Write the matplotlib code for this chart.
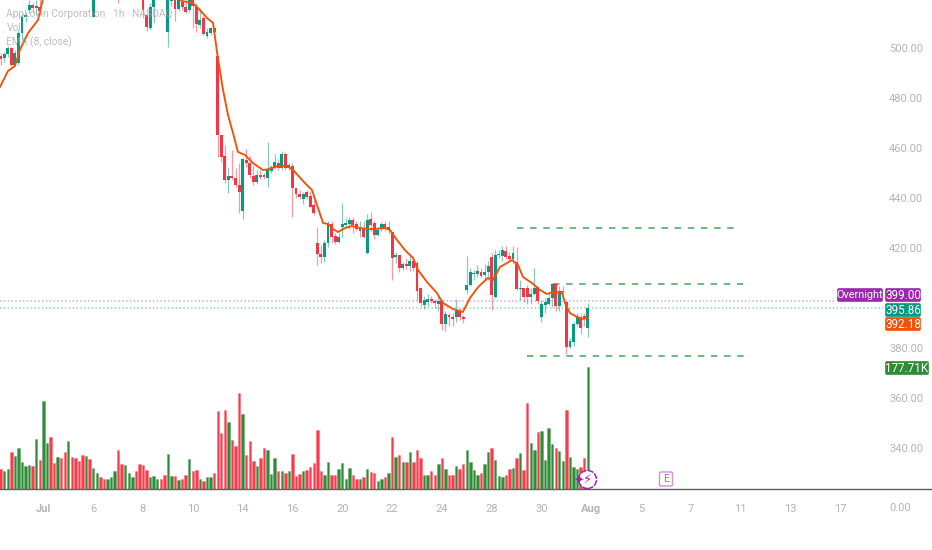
import matplotlib
matplotlib.use('Agg')
from matplotlib import pyplot as plt
from matplotlib.patches import FancyBboxPatch, Circle
import numpy as np

plt.rcParams['font.family'] = ['Roboto', 'DejaVu Sans']

# hourly candles (the ones above the top edge are rough)
opens = [496.8, 496.0, 497.6, 500.0, 493.2, 494.0, 506.0, 512.4, 515.2, 517.2, 516.0, 516.4, 521.0,
         538, 546, 541, 536, 541, 537, 533, 540, 535, 531, 527, 524, 528, 512.4,
         523, 527, 525, 523, 525, 527, 533, 526, 524, 527, 529, 531, 528, 524,
         513.2, 508.0, 516.4, 522, 530, 526, 506.4, 518.8, 524, 515.6, 518.4, 516.4, 515.2, 524,
         516.4, 509.2, 512.0, 504.8, 506.0, 508.0, 496.8, 465.2, 456.8, 447.2, 448.8, 448.0, 445.2, 434.8,
         455.2, 454.0, 448.8, 446.4, 449.2, 449.0, 448.0, 450.8, 452.0, 454.0, 452.0, 457.6, 452.0, 452.8,
         444.0, 441.6, 439.6, 442.4, 440.8, 437.2, 422.0, 417.6, 416.4, 422.0, 429.6, 424.8, 422.4, 428.4,
         429.2, 429.6, 431.2, 429.6, 426.8, 428.0, 418.0, 431.6, 430.0, 425.2, 427.6, 429.6, 427.6, 426.4,
         416.4, 417.2, 412.0, 413.6, 412.8, 414.8, 414.0, 404.0, 397.2, 398.4, 399.6, 398.8, 397.6, 398.8,
         389.6, 393.2, 392.4, 392.4, 394.8, 392.4, 403.2, 405.2, 409.6, 409.6, 410.4, 409.2, 410.4, 416.4,
         400.4, 417.2, 416.8, 418.8, 416.8, 415.6, 414.4, 403.6, 404.0, 404.0, 400.4, 401.6, 404.4, 392.4,
         397.2, 397.6, 400.0, 405.6, 396.8, 402.4, 398.4, 380.4, 382.4, 389.6, 392.4, 392.8, 388.0]
highs = [498.0, 498.4, 500.8, 500.4, 499.2, 507.2, 514.0, 514.4, 519.2, 518.0, 519.2, 521.2, 548,
         549, 548, 543, 543, 542, 539, 541, 541, 536, 533, 529, 530, 529, 525,
         529, 528, 526, 526, 528, 531, 534, 527, 528, 530, 532, 532, 529, 525,
         514.0, 518.0, 523.0, 527, 531, 528, 529, 529, 526, 523, 520.0, 519.2, 522, 525,
         518.0, 516.0, 513.0, 508.0, 508.4, 508.0, 496.8, 465.2, 461.2, 452.4, 459.2, 452.0, 454.0, 456.0,
         459.6, 456.8, 453.2, 451.2, 451.2, 450.0, 462.4, 453.2, 457.6, 455.6, 458.8, 458.4, 454.0, 454.0,
         444.0, 443.2, 442.4, 443.2, 442.8, 439.2, 428.4, 421.2, 423.2, 430.8, 430.8, 426.0, 426.0, 438.0,
         432.0, 432.4, 432.4, 431.0, 431.0, 431.0, 433.6, 434.4, 430.8, 428.4, 430.5, 430.8, 431.0, 426.4,
         418.5, 417.2, 414.5, 416.0, 416.8, 416.8, 414.8, 404.0, 400.8, 401.6, 401.0, 399.6, 401.6, 399.2,
         394.9, 394.0, 394.0, 399.6, 396.0, 393.2, 416.8, 412.0, 411.2, 413.2, 412.0, 413.6, 415.0, 418.0,
         419.2, 419.2, 420.8, 420.8, 418.4, 420.8, 420.4, 407.2, 404.0, 405.2, 404.0, 412.0, 404.4, 399.2,
         400.0, 401.8, 406.0, 405.8, 405.0, 404.8, 398.8, 384.0, 390.4, 394.0, 393.6, 394.0, 398.0]
lows = [493.2, 494.4, 496.4, 492.8, 492.8, 493.2, 503.2, 510.4, 514.0, 514.4, 513.2, 513.2, 520,
        536, 539, 534, 534, 535, 531, 531, 533, 529, 525, 522, 523, 521, 512.4,
        522, 523, 522, 522, 524, 526, 518, 521, 522, 525, 528, 526, 522, 512.0,
        506.8, 507.2, 510.0, 520, 524, 522, 500.4, 517.0, 510.8, 514.8, 515.2, 514.0, 514.4, 508.0,
        506.4, 508.0, 505.2, 504.0, 505.2, 506.4, 456.4, 454.4, 446.0, 442.0, 447.2, 444.4, 434.0, 431.6,
        452.4, 448.0, 445.2, 445.6, 447.6, 447.6, 444.4, 450.0, 451.6, 451.2, 451.2, 451.2, 451.2, 432.4,
        440.0, 439.6, 437.6, 439.6, 436.4, 433.2, 413.2, 414.0, 414.4, 420.4, 422.0, 421.6, 422.0, 424.4,
        428.0, 427.6, 426.0, 426.8, 424.5, 424.0, 417.6, 427.0, 423.6, 424.8, 426.7, 426.8, 425.6, 407.2,
        414.0, 410.4, 411.2, 411.6, 410.8, 410.8, 399.2, 396.8, 395.6, 396.8, 398.0, 396.0, 395.0, 387.2,
        386.9, 389.0, 389.0, 390.4, 391.2, 390.0, 401.6, 405.0, 407.2, 408.4, 408.0, 407.2, 407.2, 395.2,
        400.0, 416.0, 415.0, 415.6, 415.2, 414.0, 403.2, 399.2, 398.4, 397.6, 397.6, 401.2, 397.6, 390.4,
        394.0, 397.2, 396.4, 394.8, 394.8, 400.0, 377.6, 380.2, 380.8, 389.0, 385.6, 389.0, 384.4]
closes = [495.6, 497.6, 500.0, 493.2, 498.0, 506.0, 512.4, 513.2, 517.2, 516.2, 516.8, 514.8, 545,
          546, 541, 536, 541, 537, 533, 540, 535, 531, 527, 524, 528, 523, 523,
          527, 525, 523, 525, 527, 530, 526, 524, 527, 529, 531, 528, 525, 515.2,
          508.4, 516.4, 522.0, 526, 526, 524, 527, 528, 515.6, 522, 516.4, 514.4, 520.4, 516.8,
          509.6, 511.2, 505.6, 506.4, 508.0, 506.4, 465.2, 456.4, 447.2, 448.8, 448.0, 445.2, 442.4, 455.6,
          454.0, 449.2, 446.4, 449.2, 448.6, 448.4, 451.6, 452.4, 454.4, 452.0, 457.6, 452.0, 453.2, 444.0,
          441.6, 440.4, 441.6, 440.4, 436.4, 434.0, 417.6, 416.4, 422.0, 429.6, 424.4, 422.4, 424.4, 429.6,
          430.0, 431.2, 429.2, 427.6, 428.0, 424.4, 431.2, 429.2, 425.2, 427.2, 429.6, 427.6, 428.4, 416.0,
          417.2, 412.0, 413.6, 412.8, 414.8, 412.0, 402.8, 398.0, 399.2, 399.6, 398.8, 398.0, 398.8, 389.6,
          393.6, 392.4, 391.6, 394.8, 392.4, 391.6, 405.2, 410.4, 410.0, 410.8, 408.8, 410.4, 412.8, 401.2,
          417.2, 417.6, 419.2, 416.4, 415.6, 418.0, 403.6, 404.0, 400.4, 400.4, 401.6, 404.0, 398.8, 397.6,
          398.4, 400.0, 405.6, 396.8, 402.8, 402.8, 380.4, 382.8, 389.6, 392.4, 388.0, 391.6, 395.86]

# volume in thousands, green or red
volumes = [29.6, 25.7, 29.6, 53.9, 47.6, 60.2, 38.8, 34.0, 35.4, 33.0, 73.3, 42.7, 128.7, 67.0, 76.2, 37.9, 46.6,
           44.7, 54.4, 70.4, 46.6, 45.6, 40.8, 49.5, 47.6, 43.7, 31.1, 22.8, 18.0, 14.1, 15.1, 18.0, 26.2, 56.3,
           36.9, 35.0, 23.3, 17.5, 26.7, 36.9, 35.0, 28.2, 17.0, 19.4, 14.6, 15.1, 19.9, 51.5, 19.4, 19.4, 13.1,
           15.1, 19.9, 43.7, 26.2, 27.2, 14.1, 12.1, 18.0, 18.0, 22.8, 113.6, 81.1, 114.6, 98.1, 71.4, 62.6, 140.3,
           109.7, 50.0, 70.4, 40.8, 34.0, 45.6, 60.2, 56.3, 22.3, 44.7, 26.2, 26.7, 23.8, 25.7, 51.5, 18.4, 21.8,
           26.7, 28.2, 31.6, 37.9, 85.9, 26.7, 20.9, 39.8, 20.9, 19.9, 29.6, 37.9, 14.1, 30.6, 19.9, 15.1, 15.1,
           18.0, 29.6, 25.2, 23.8, 12.1, 15.1, 17.0, 23.8, 76.2, 46.6, 49.5, 38.8, 38.8, 54.4, 39.8, 56.3, 44.7,
           19.9, 20.9, 26.7, 19.9, 35.9, 45.6, 29.6, 19.9, 19.9, 34.0, 28.6, 36.9, 57.3, 39.8, 28.2, 20.9, 22.8,
           35.9, 54.4, 60.2, 42.7, 18.9, 17.0, 20.9, 28.6, 31.1, 45.6, 52.4, 28.2, 125.3, 67.5, 56.3, 83.0, 84.0,
           41.8, 88.8, 65.5, 59.2, 55.3, 40.8, 115.5, 46.6, 31.6, 28.6, 32.5, 44.7, 177.71]

# EMA(8) traced by hand
ema_bar = [-0.2, 2.06, 4.0, 5.4, 7.7, 10.5, 11.6, 13.3, 25, 35, 45, 47.6, 51, 54, 56, 58, 59.7, 61, 62.5, 63.9,
           65.3, 66.7, 68.7, 70.9, 73.7, 75.7, 77.7, 80.5, 82.2, 85.5, 87.5, 88.9, 90.6, 92, 93.4, 94.8, 96.8,
           98.7, 101, 103, 105.2, 108, 109.4, 111.4, 113.6, 115.9, 117.3, 119.8, 122.6, 124.3, 127.1, 129.9,
           131.9, 134.2, 136.9, 138.4, 140.3, 142.3, 143.7, 145.4, 146.8, 149.3, 151.6, 153.5, 155.2, 157.8,
           158.6, 160, 162, 163.7, 165]
ema_val = [484.4, 490.8, 492.8, 499.2, 506.0, 511.2, 518.0, 527.2, 530, 530, 528, 522, 518.8, 518.0, 515.2, 512.0,
           510.0, 496.4, 483.2, 473.2, 466.0, 458.4, 457.2, 454.0, 451.2, 451.6, 452.8, 452.8, 451.2, 446.0,
           443.2, 437.2, 430.0, 429.6, 427.6, 426.4, 428.0, 428.8, 428.0, 427.6, 427.6, 428.0, 427.2, 423.2,
           419.2, 416.0, 411.2, 406.4, 402.0, 398.0, 395.6, 394.4, 400.0, 404.4, 408.0, 407.2, 412.4, 414.0,
           415.2, 413.2, 408.4, 406.0, 403.2, 401.6, 402.4, 402.0, 398.0, 394.0, 392.4, 391.6, 392.18]

date_bars = [12, 26, 40, 54, 68, 82, 96, 110, 124, 138, 152, 166, 180, 194, 208, 222, 236]
date_labels = ['Jul', '6', '8', '10', '14', '16', '20', '22', '24', '28', '30', 'Aug', '5', '7', '11', '13', '17']
price_ticks = [500, 480, 460, 440, 420, 380, 360, 340]

# dashed levels: price, first bar, last bar
level_prices = [428.0, 405.6, 376.6]
level_start = [145, 155.3, 148]
level_end = [207.2, 210, 210]

overnight = 399.00
last_close = 395.86
ema_last = 392.18
last_volume = 177.71

W, H = 932, 550
GREEN = '#089981'
RED = '#f23645'
VOL_GREEN = '#2e8b36'
VOL_RED = '#fb3a4c'
PURPLE = '#9c27b0'
ORANGE = '#ef5209'
GREY = '#b4b4b4'

fig = plt.figure(figsize=(W / 100, H / 100), dpi=100)
ax = fig.add_axes([0, 0, 1, 1])
ax.set_xlim(-0.188, 261.75)
ax.set_ylim(299.2, 519.2)
ax.axis('off')

vol = ax.twinx()
vol.set_ylim(-88.9, 712.3)
vol.axis('off')
vol.set_zorder(0)
ax.set_zorder(1)
ax.patch.set_visible(False)

bars = np.arange(len(closes))
opens = np.array(opens)
closes = np.array(closes)
up = closes >= opens

vol.bar(bars, volumes, width=0.68, color=[VOL_GREEN if u else VOL_RED for u in up], linewidth=0.5,
        edgecolor=['#2e8b3660' if u else '#fb3a4c60' for u in up])
vol.axhline(0, color='#5f5f5f', lw=1.0)

candle_colors = [GREEN if u else RED for u in up]
ax.vlines(bars, lows, highs, colors=candle_colors, lw=0.9, alpha=0.5, zorder=2)
ax.bar(bars, np.maximum(np.abs(closes - opens), 0.4), bottom=np.minimum(opens, closes), width=0.82,
       color=candle_colors, linewidth=0, zorder=3)
ax.plot(ema_bar, ema_val, color=ORANGE, lw=1.35, zorder=4, solid_joinstyle='round')

ax.plot([-0.188, 234.5], [overnight, overnight], color=PURPLE, lw=1.1, ls=(0, (1, 1.5)), alpha=0.4, zorder=1)
ax.plot([-0.188, 248], [last_close, last_close], color=GREEN, lw=1.1, ls=(0, (1, 1.5)), alpha=0.45, zorder=1)

for p, a, b in zip(level_prices, level_start, level_end):
    ax.plot([a, b], [p, p], color='#2f9a4c', lw=1.1, ls=(0, (4.2, 4.4)), alpha=0.9, zorder=2)


def fx(x):
    return x / W


def fy(y):
    return 1 - y / H


def tag(x0, y0, x1, y1, color, label, size=8.4):
    box = FancyBboxPatch((x0 + 1, H - y1 + 1), x1 - x0 - 2, y1 - y0 - 2, boxstyle='round,pad=0,rounding_size=1',
                         facecolor=color, edgecolor=color, lw=1.2, zorder=6)
    fig.add_artist(box)
    box.set_transform(None)
    fig.text(fx((x0 + x1) / 2), fy((y0 + y1) / 2 + 0.3), label, color='white', fontsize=size, ha='center',
             va='center', zorder=7)


for p in price_ticks:
    ax.annotate('%.2f' % p, (fx(889), p), xytext=(0, -0.7), textcoords='offset points', color=GREY, fontsize=8.0,
                va='center', ha='left', xycoords=ax.get_yaxis_transform())
ax.text(fx(889), fy(508), '0.00', color=GREY, fontsize=8.0, va='center', ha='left', transform=ax.transAxes)

for b, s in zip(date_bars, date_labels):
    bold = s in ('Jul', 'Aug')
    ax.text(b, fy(509.5), s, color=GREY, fontsize=8.0, va='center', ha='center',
            fontweight='bold' if bold else 'normal', transform=ax.get_xaxis_transform())

tag(837, 288, 883, 302, PURPLE, 'Overnight', 7.8)
tag(885, 288, 921, 302, PURPLE, '%.2f' % overnight)
tag(885, 303, 921, 317, GREEN, '%.2f' % last_close)
tag(885, 317, 921, 331, ORANGE, '%.2f' % ema_last)
tag(885, 361, 929, 375, VOL_GREEN, '%.2fK' % last_volume)

# legend text sits over the candles
for y, s in zip([14, 28, 42], ['AppLovin Corporation · 1h · NASDAQ', 'Vol', 'EMA (8, close)']):
    fig.text(fx(6.5), fy(y), s, color='#a8a8a8', alpha=0.75, fontsize=7.4, va='center', ha='left', zorder=8)

# flash and earnings markers near the baseline
disc = Circle((587.5, H - 479.5), 9, facecolor='white', edgecolor=PURPLE, lw=1.1, ls=(0, (4, 0.8)), zorder=5)
fig.add_artist(disc)
disc.set_transform(None)
fig.text(fx(587.5), fy(479.5), '\u26a1', color=PURPLE, fontsize=9.5, ha='center', va='center', zorder=6,
         family='DejaVu Sans')
fig.text(fx(579), fy(481), '\u2726', color=PURPLE, fontsize=9, ha='center', va='center', zorder=6,
         family='DejaVu Sans')
ebox = FancyBboxPatch((659.5, H - 486), 13, 14, boxstyle='round,pad=0,rounding_size=1.5', facecolor='white',
                      edgecolor='#ce93d8', lw=1.0, zorder=5)
fig.add_artist(ebox)
ebox.set_transform(None)
fig.text(fx(666), fy(479), 'E', color='#a56bbd', fontsize=7.5, ha='center', va='center', zorder=6)

fig.savefig('out.png', dpi=100)
